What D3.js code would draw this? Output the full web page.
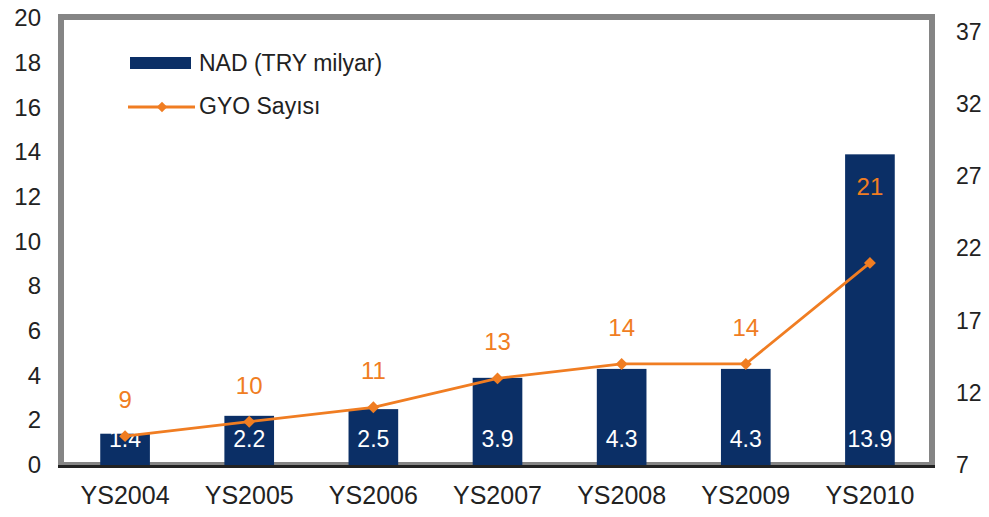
<!DOCTYPE html>
<html>
<head>
<meta charset="utf-8">
<script src="https://cdn.jsdelivr.net/npm/d3@7"></script>
<style>
  body { margin: 0; background: #fff; }
  text { font-family: "Liberation Sans", Arial, sans-serif; }
</style>
</head>
<body>
<div id="chart"></div>
<script>
// Data
const years = ["YS2004", "YS2005", "YS2006", "YS2007", "YS2008", "YS2009", "YS2010"];
const nadValues = [1.4, 2.2, 2.5, 3.9, 4.3, 4.3, 13.9];
const gyoCounts = [9, 10, 11, 13, 14, 14, 21];
const leftTicks = [0, 2, 4, 6, 8, 10, 12, 14, 16, 18, 20];
const rightTicks = [7, 12, 17, 22, 27, 32, 37];

const width = 989, height = 517;
const barColor = "#0b2f66";
const lineColor = "#f07d22";
const textColor = "#222";
const fontStack = "'Liberation Sans', Arial, sans-serif";

const svg = d3.select("#chart")
    .append("svg")
    .attr("width", width)
    .attr("height", height);

// Scales
const x = d3.scaleBand()
    .domain(years)
    .range([63, 932])
    .paddingInner(0.6)
    .paddingOuter(0.3);

const yLeft = d3.scaleLinear().domain([0, 20]).range([465, 18]);
const yRight = d3.scaleLinear().domain([7, 37]).range([465, 32]);

// Frame
svg.append("rect")
    .attr("x", 61)
    .attr("y", 17)
    .attr("width", 871)
    .attr("height", 448)
    .attr("fill", "none")
    .attr("stroke", "#858585")
    .attr("stroke-width", 6);

// Bars
svg.selectAll(".bar")
    .data(nadValues)
    .join("rect")
    .attr("class", "bar")
    .attr("x", (d, i) => x(years[i]))
    .attr("y", d => yLeft(d))
    .attr("width", x.bandwidth())
    .attr("height", d => yLeft(0) - yLeft(d))
    .attr("fill", barColor);

// Bar value labels
svg.selectAll(".bar-label")
    .data(nadValues)
    .join("text")
    .attr("class", "bar-label")
    .attr("x", (d, i) => x(years[i]) + x.bandwidth() / 2)
    .attr("y", 447)
    .attr("text-anchor", "middle")
    .attr("fill", "#fff")
    .style("font-size", "23px")
    .text(d => d);

// Bottom axis line
svg.append("line")
    .attr("x1", 58).attr("x2", 935)
    .attr("y1", 466.5).attr("y2", 466.5)
    .attr("stroke", "#222")
    .attr("stroke-width", 3);

// Left axis
const leftAxis = svg.append("g")
    .attr("transform", "translate(41,0)")
    .call(d3.axisLeft(yLeft).tickValues(leftTicks).tickSize(0).tickPadding(0));
leftAxis.select(".domain").remove();
leftAxis.selectAll("text")
    .attr("fill", textColor)
    .style("font-size", "24px")
    .style("font-family", fontStack);

// Right axis
const rightAxis = svg.append("g")
    .attr("transform", "translate(956,0)")
    .call(d3.axisRight(yRight).tickValues(rightTicks).tickSize(0).tickPadding(0));
rightAxis.select(".domain").remove();
rightAxis.selectAll("text")
    .attr("fill", textColor)
    .style("font-size", "23px")
    .style("font-family", fontStack);

// Category labels
const xAxis = svg.append("g")
    .attr("transform", "translate(0,504)")
    .call(d3.axisBottom(x).tickSize(0).tickPadding(0));
xAxis.select(".domain").remove();
xAxis.selectAll("text")
    .attr("fill", textColor)
    .attr("y", 0)
    .attr("dy", 0)
    .style("font-size", "25px")
    .style("font-family", fontStack);

// GYO line
const cx = i => x(years[i]) + x.bandwidth() / 2;
const line = d3.line()
    .x((d, i) => cx(i))
    .y(d => yRight(d));

svg.append("path")
    .datum(gyoCounts)
    .attr("fill", "none")
    .attr("stroke", lineColor)
    .attr("stroke-width", 2.8)
    .attr("d", line);

const diamond = d3.symbol().type(d3.symbolDiamond2).size(90);
svg.selectAll(".marker")
    .data(gyoCounts)
    .join("path")
    .attr("class", "marker")
    .attr("transform", (d, i) => `translate(${cx(i)},${yRight(d)})`)
    .attr("d", diamond)
    .attr("fill", lineColor);

// GYO labels (last one sits higher inside the tall bar)
svg.selectAll(".gyo-label")
    .data(gyoCounts)
    .join("text")
    .attr("class", "gyo-label")
    .attr("x", (d, i) => cx(i))
    .attr("y", (d, i) => yRight(d) - (i === gyoCounts.length - 1 ? 68 : 28))
    .attr("text-anchor", "middle")
    .attr("fill", lineColor)
    .style("font-size", "24px")
    .text(d => d);

// Legend
const legend = svg.append("g");
legend.append("rect")
    .attr("x", 130).attr("y", 57)
    .attr("width", 61).attr("height", 12)
    .attr("fill", barColor);
legend.append("text")
    .attr("x", 199).attr("y", 71)
    .attr("fill", textColor)
    .style("font-size", "23px")
    .text("NAD (TRY milyar)");

legend.append("line")
    .attr("x1", 128).attr("x2", 195)
    .attr("y1", 107).attr("y2", 107)
    .attr("stroke", lineColor)
    .attr("stroke-width", 2.8);
legend.append("path")
    .attr("transform", "translate(162,107)")
    .attr("d", d3.symbol().type(d3.symbolDiamond2).size(70))
    .attr("fill", lineColor);
legend.append("text")
    .attr("x", 199).attr("y", 114)
    .attr("fill", textColor)
    .style("font-size", "23px")
    .text("GYO Sayısı");
</script>
</body>
</html>
